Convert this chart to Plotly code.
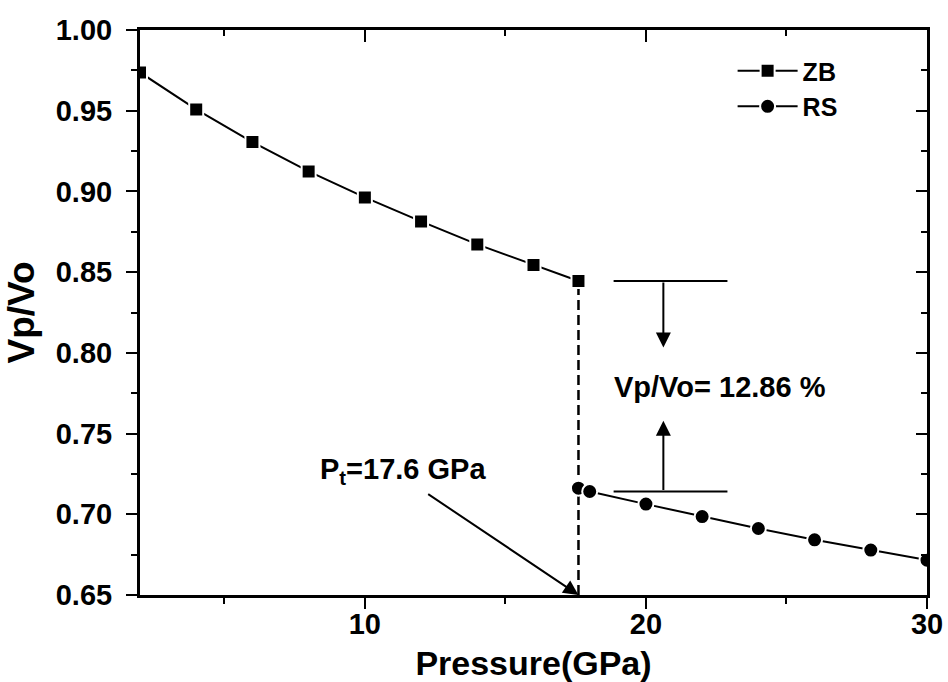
import plotly.graph_objects as go

# ---- data ----
zb_pressure = [2, 4, 6, 8, 10, 12, 14, 16, 17.6]
zb_volume = [0.9737, 0.9508, 0.9306, 0.9124, 0.8963, 0.8814, 0.8672, 0.8544, 0.8445]
rs_pressure = [17.6, 18, 20, 22, 24, 26, 28, 30]
rs_volume = [0.7162, 0.7141, 0.7063, 0.6986, 0.6912, 0.6842, 0.6778, 0.6716]

transition_p = 17.6
collapse_label = "Vp/Vo= 12.86 %"
pt_label = "P<sub>t</sub>=17.6 GPa"

x_range = [2, 30]
y_range = [0.65, 1.00]
x_title = "Pressure(GPa)"
y_title = "Vp/Vo"

# annotation anchor points (data coordinates)
pt_text_pos = (8.34, 0.7271)
pt_arrow_start = (12.2, 0.7131)
gap_bar_x = (18.85, 22.9)
gap_arrow_x = 20.62
gap_top_tip = 0.8033
gap_bottom_tip = 0.7579
gap_text_pos = (18.79, 0.779)

FONT = "Arial, Liberation Sans, sans-serif"
BLACK = "black"

fig = go.Figure()

fig.add_trace(go.Scatter(
    x=zb_pressure, y=zb_volume, name="ZB", mode="lines+markers",
    line=dict(color=BLACK, width=2),
    marker=dict(symbol="square", size=14, color=BLACK, line=dict(color="white", width=2)),
))
fig.add_trace(go.Scatter(
    x=rs_pressure, y=rs_volume, name="RS", mode="lines+markers",
    line=dict(color=BLACK, width=2),
    marker=dict(symbol="circle", size=15, color=BLACK, line=dict(color="white", width=2)),
))
# invisible trace that carries the mirrored (top/right) tick axes
fig.add_trace(go.Scatter(x=x_range, y=y_range, xaxis="x2", yaxis="y2", mode="markers",
                         marker=dict(opacity=0), showlegend=False, hoverinfo="skip"))

# dashed transition line
fig.add_shape(type="line", x0=transition_p, x1=transition_p, y0=y_range[0], y1=zb_volume[-1],
              line=dict(color=BLACK, width=2.5, dash="10px,5px"), layer="below")
# horizontal bars of the volume-collapse marker
fig.add_shape(type="line", x0=gap_bar_x[0], x1=gap_bar_x[1], y0=zb_volume[-1], y1=zb_volume[-1],
              line=dict(color=BLACK, width=2))
fig.add_shape(type="line", x0=gap_bar_x[0], x1=gap_bar_x[1], y0=rs_volume[1], y1=rs_volume[1],
              line=dict(color=BLACK, width=2))

# arrows
arrow_style = dict(xref="x", yref="y", axref="x", ayref="y", text="", showarrow=True,
                   arrowhead=2, arrowsize=1.5, arrowwidth=2, arrowcolor=BLACK)
fig.add_annotation(x=gap_arrow_x, y=gap_top_tip, ax=gap_arrow_x, ay=zb_volume[-1], **arrow_style)
fig.add_annotation(x=gap_arrow_x, y=gap_bottom_tip, ax=gap_arrow_x, ay=rs_volume[1], **arrow_style)
fig.add_annotation(x=transition_p, y=y_range[0], ax=pt_arrow_start[0], ay=pt_arrow_start[1], **arrow_style)

fig.add_annotation(x=gap_text_pos[0], y=gap_text_pos[1], xref="x", yref="y", text=collapse_label,
                   showarrow=False, xanchor="left", yanchor="middle",
                   font=dict(family=FONT, size=29, color=BLACK, weight="bold"))
fig.add_annotation(x=pt_text_pos[0], y=pt_text_pos[1], xref="x", yref="y", text=pt_label,
                   showarrow=False, xanchor="left", yanchor="middle",
                   font=dict(family=FONT, size=29, color=BLACK, weight="bold"))

tickfont = dict(family=FONT, size=29, color=BLACK, weight="bold")
xtitlefont = dict(family=FONT, size=34, color=BLACK, weight="bold")
ytitlefont = dict(family=FONT, size=37, color=BLACK, weight="bold")

fig.update_layout(
    width=948, height=682,
    margin=dict(l=139.5, r=20.5, t=29.5, b=87, autoexpand=False),
    paper_bgcolor="white", plot_bgcolor="white",
    showlegend=True,
    legend=dict(x=0.753, y=0.968, xanchor="left", yanchor="top", bgcolor="rgba(0,0,0,0)",
                font=dict(family=FONT, size=25, color=BLACK, weight="bold"),
                itemwidth=60, tracegroupgap=0),
    xaxis=dict(range=x_range, tick0=0, dtick=10, ticks="outside", ticklen=11, tickwidth=2,
               tickcolor=BLACK, showline=True, linewidth=3, linecolor=BLACK, mirror=True,
               showgrid=False, zeroline=False, tickfont=tickfont, ticklabelstandoff=-10,
               minor=dict(dtick=5, tick0=0, ticks="outside", ticklen=6, tickwidth=2, tickcolor=BLACK, showgrid=False),
               title=dict(text=x_title, font=xtitlefont, standoff=14)),
    yaxis=dict(range=y_range, tick0=0.65, dtick=0.05, ticks="outside", ticklen=11, tickwidth=2,
               tickcolor=BLACK, showline=True, linewidth=3, linecolor=BLACK, mirror=True,
               showgrid=False, zeroline=False, tickfont=tickfont, tickformat=".2f", ticklabelstandoff=8,
               minor=dict(dtick=0.025, tick0=0.65, ticks="outside", ticklen=6, tickwidth=2, tickcolor=BLACK, showgrid=False),
               title=dict(text=y_title, font=ytitlefont, standoff=10)),
    xaxis2=dict(range=x_range, overlaying="x", side="top", tick0=0, dtick=10, ticks="inside", ticklen=12,
                tickwidth=2, tickcolor=BLACK, showticklabels=False, showgrid=False, zeroline=False, showline=False,
                minor=dict(dtick=5, tick0=0, ticks="inside", ticklen=6, tickwidth=2, tickcolor=BLACK, showgrid=False)),
    yaxis2=dict(range=y_range, overlaying="y", side="right", tick0=0.65, dtick=0.05, ticks="inside", ticklen=11,
                tickwidth=2, tickcolor=BLACK, showticklabels=False, showgrid=False, zeroline=False, showline=False,
                minor=dict(dtick=0.025, tick0=0.65, ticks="inside", ticklen=6, tickwidth=2, tickcolor=BLACK, showgrid=False)),
)

fig.write_html("out.html")
